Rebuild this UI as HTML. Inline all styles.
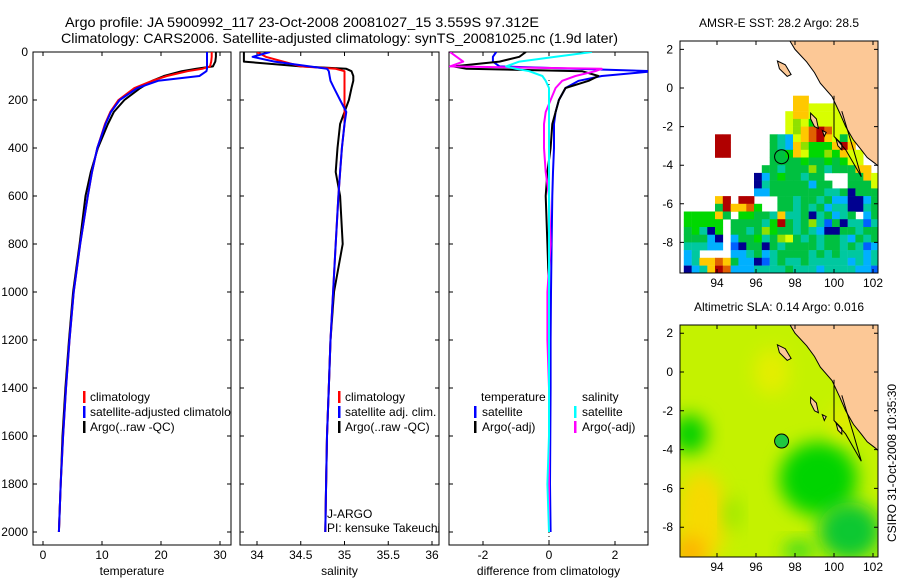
<!DOCTYPE html>
<html><head><meta charset="utf-8"><style>
html,body{margin:0;padding:0;background:#fff}
svg{display:block;font-family:"Liberation Sans",sans-serif}
</style></head><body>
<svg id="s" width="900" height="580" viewBox="0 0 900 580" xmlns="http://www.w3.org/2000/svg">
<defs>
<clipPath id="c1"><rect x="33" y="52" width="198" height="493"/></clipPath>
<clipPath id="c2"><rect x="240" y="52" width="199" height="493"/></clipPath>
<clipPath id="c3"><rect x="449" y="52" width="199" height="493"/></clipPath>
<clipPath id="m1"><rect x="680" y="41" width="198" height="232"/></clipPath>
<clipPath id="m2"><rect x="680" y="325" width="198" height="232"/></clipPath>
<filter id="bl" x="-50%" y="-50%" width="200%" height="200%"><feGaussianBlur stdDeviation="9"/></filter>
</defs>
<text x="65" y="27" font-size="14" textLength="474" lengthAdjust="spacingAndGlyphs">Argo profile: JA 5900992_117 23-Oct-2008 20081027_15 3.559S 97.312E</text>
<text x="61" y="43" font-size="14" textLength="557" lengthAdjust="spacingAndGlyphs">Climatology: CARS2006. Satellite-adjusted climatology: synTS_20081025.nc (1.9d later)</text>
<g id="g"></g>
</svg>
<script>
// ---- profile data ----
const depths=[0,20,40,60,70,80,100,120,150,200,250,300,400,500,600,800,1000,1200,1400,1600,1800,2000];
const tempClim=[28.6,28.6,28.5,28.3,27,24.5,21,18.5,15.5,12.8,11.4,10.5,9.2,8.3,7.6,6.3,5.2,4.5,3.9,3.4,3.0,2.7];
const tempSat=[27.8,27.8,27.8,27.8,27.8,27.7,26.5,19.5,16,13,11.5,10.6,9.2,8.3,7.6,6.3,5.2,4.5,3.9,3.4,3.0,2.7];
const tempArgo=[29.3,29.3,29.2,28.8,26,23.5,20.5,18.5,16.5,13.8,12,11,9.3,8.1,7.2,6.2,5.1,4.4,3.8,3.3,3.0,2.7];
const salClim=[34.0,34.1,34.3,34.5,34.9,35.0,35.0,35.0,35.0,35.0,35.0,35.0,34.97,34.95,34.93,34.9,34.87,34.84,34.82,34.8,34.79,34.78];
const salSat=[34.15,33.95,34.2,34.6,34.8,34.82,34.83,34.84,34.88,34.95,35.02,35.0,34.97,34.95,34.93,34.9,34.87,34.84,34.82,34.8,34.79,34.78];
const salArgo=[33.85,33.85,33.85,34.5,35.02,35.08,35.1,35.1,35.08,35.05,35.0,34.95,34.92,34.9,34.95,34.98,34.88,34.84,34.82,34.8,34.79,34.78];
const dTempSat=[-1.6,-1.7,-1.7,-1.5,0.8,3.2,1.6,0.9,0.5,0.3,0.2,0.15,0.15,0.12,0.1,0.08,0.06,0.05,0.05,0.04,0.03,0.05];
const dTempArgo=[-0.7,-0.9,-1.5,-2.9,-2.5,1.0,1.5,1.2,0.5,0.3,0.2,0.1,0.05,-0.05,-0.1,-0.05,0,0,0,0,0,0];
const dSalSat=[1.3,0.2,-0.9,-1.3,-1.0,-0.6,-0.2,-0.1,0,0,0,0,0,0,0,0,0,0,0,0,-0.05,0];
const dSalArgo=[-3,-2.8,-2.6,-3,1.6,1.4,0.8,0.4,0.2,0.05,-0.1,-0.15,-0.15,-0.1,0,0.05,-0.05,-0.05,0,0,0,0];
const depthTicks=[0,200,400,600,800,1000,1200,1400,1600,1800,2000];
const tempTicks=[0,10,20,30];
const salTicks=[34,34.5,35,35.5,36];
const diffTicks=[-2,0,2];
// ---- SST grid (rows from lat 2.4 down, 0.4 deg cells from lon 92.3) ----
const sstRows=[
".........................",".........................",".........................",
".........................",".........................",".........................",
"....................y....","..............YY....yy...","..............YYyyyyyy...",
".............yYYyyyyyy...",".............ylygyyyyy...",".............ylYoroyyy...",
"....rr.....GcbyYorYyGy...","....rr.....GcbYlgggYrY...","....rr.....GGgYygglgYyy..",
"...........GGGGgGGgGgyy..","..........GGcGGGlGcGGGYY.",".........NbGgGGcGG...GGYy",
".........NcGGGGGbGG..GGGy",".........bbGGGGGGGccGNGGG","....Yr.rr...GGcGGcGbbNNbG",
"....GrYYog..GGcGcGbccNNcG","ggggYG.ggGGcYccGNcGbcG.bG","ggggg.GGGGcgrGcGlcBGNccBc",
"GgcNg.GGcGlgGGcGcbNNGGcGG","GGGbN.bGGgcGlyGcGcGGcbGcG","cccbb.BNGGNGcGGGGcGGcGcBb",
"bc....bbcGbcGGGGcGcGcccbc","bcYYoYGbbNBcGccGcccccbcbc","NbcYrobbbccccGcccbccccbbB"];
const sstColors={G:"#00c040",g:"#00d800",c:"#00c8a0",b:"#00b0ff",B:"#0060ff",N:"#000090",y:"#d8ff00",l:"#90e000",Y:"#ffc800",o:"#e06000",r:"#b00000"};
const latTicks=[2,0,-2,-4,-6,-8];
const lonTicks=[94,96,98,100,102];
const argoLon=97.312, argoLat=-3.559;

const NS="http://www.w3.org/2000/svg";
const G=document.getElementById('g');
function mk(tag,at,par){const e=document.createElementNS(NS,tag);for(const k in at)e.setAttribute(k,at[k]);(par||G).appendChild(e);return e;}
const yD=d=>52+d*0.24;
const xT=t=>43+t*5.9;
const xS=s=>257+(s-34)*87.5;
const xDf=v=>549+v*33;

function panel(x0,w,clip,xf,ticks,labels,title,name){
  const f=mk('rect',{x:x0,y:52,width:w,height:493,fill:'none',stroke:'#000','stroke-width':1});
  
  
  depthTicks.forEach(d=>{const y=yD(d);
    const t=mk('path',{d:`M${x0} ${y}h4M${x0+w} ${y}h-4`,stroke:'#000'});
    
    
  });
  ticks.forEach((v,i)=>{const x=xf(v);
    const t=mk('path',{d:`M${x} 545v-4M${x} 52v4`,stroke:'#000'});
    
    
    const l=mk('text',{x:x,y:559,'font-size':12,'text-anchor':'middle'});l.textContent=labels[i];
    
    
  });
  const tt=mk('text',{x:x0+w/2,y:575,'font-size':12,'text-anchor':'middle'});tt.textContent=title;
  
  
}
function line(vals,xf,col,clip,name,w){
  const g=mk('g',{'clip-path':`url(#${clip})`});
  const p=mk('polyline',{points:vals.map((v,i)=>xf(v).toFixed(1)+','+yD(depths[i]).toFixed(1)).join(' '),fill:'none',stroke:col,'stroke-width':w||2,'stroke-linejoin':'round'},g);
  
  
}
function txt(x,y,s,name,anchor,par){const t=mk('text',{x:x,y:y,'font-size':12,'text-anchor':anchor||'start'},par);t.textContent=s;
  
  return t;}
function bar(x,y,col,name){const r=mk('rect',{x:x,y:y-10,width:2.5,height:12,fill:col});
  
  }

// depth labels
depthTicks.forEach(d=>{const l=txt(28,yD(d)+4,String(d),'depth-tick-label','end');});

// panel 1 temperature
panel(33,198,'c1',xT,tempTicks,tempTicks.map(String),'temperature','temperature-panel');
line(tempArgo,xT,'#000','c1','temp-argo-line');
line(tempClim,xT,'#f00','c1','temp-climatology-line');
line(tempSat,xT,'#00f','c1','temp-satellite-line');
const lg1=mk('g',{'clip-path':'url(#c1)'});
bar(83,401,'#f00','legend-swatch-climatology');txt(90,401,'climatology','legend-climatology','start',lg1);
bar(83,416,'#00f','legend-swatch-satellite');txt(90,416,'satellite-adjusted climatology','legend-satellite','start',lg1);
bar(83,431,'#000','legend-swatch-argo');txt(90,431,'Argo(..raw -QC)','legend-argo','start',lg1);

// panel 2 salinity
panel(240,199,'c2',xS,salTicks,['34','34.5','35','35.5','36'],'salinity','salinity-panel');
line(salArgo,xS,'#000','c2','sal-argo-line');
line(salClim,xS,'#f00','c2','sal-climatology-line');
line(salSat,xS,'#00f','c2','sal-satellite-line');
bar(338,401,'#f00','legend-swatch-climatology');txt(345,401,'climatology','legend-climatology');
bar(338,416,'#00f','legend-swatch-satellite');txt(345,416,'satellite adj. clim.','legend-satellite');
bar(338,431,'#000','legend-swatch-argo');txt(345,431,'Argo(..raw -QC)','legend-argo');
txt(327,518,'J-ARGO','float-program-label');
txt(327,532,'PI: kensuke Takeuchi','pi-label');

// panel 3 difference
panel(449,199,'c3',xDf,diffTicks,['-2','0','2'],'difference from climatology','difference-panel');
const z=mk('line',{x1:xDf(0),y1:80,x2:xDf(0),y2:545,stroke:'#000','stroke-dasharray':'1,3'});

line(dTempSat,xDf,'#00f','c3','diff-temp-satellite-line');
line(dTempArgo,xDf,'#000','c3','diff-temp-argo-line');
line(dSalArgo,xDf,'#f0f','c3','diff-sal-argo-line');
line(dSalSat,xDf,'#0ff','c3','diff-sal-satellite-line');
txt(481,401,'temperature','legend-temperature-header');
bar(474,416,'#00f','legend-swatch-temp-satellite');txt(482,416,'satellite','legend-temp-satellite');
bar(474,431,'#000','legend-swatch-temp-argo');txt(482,431,'Argo(-adj)','legend-temp-argo');
txt(582,401,'salinity','legend-salinity-header');
bar(574,416,'#0ff','legend-swatch-sal-satellite');txt(582,416,'satellite','legend-sal-satellite');
bar(574,431,'#f0f','legend-swatch-sal-argo');txt(582,431,'Argo(-adj)','legend-sal-argo');

// ---- maps ----
const xL=lon=>717+(lon-94)*19.5;
const land=[[97.7,2.5],[98.0,2.0],[98.6,1.35],[99.0,0.8],[99.3,0.25],[99.9,-0.45],[100.3,-1.3],[100.6,-2.0],[101.0,-2.7],[101.4,-3.2],[101.7,-3.6],[102.1,-3.9],[102.5,-4.25],[102.5,2.5]];
const islands=[[[97.1,1.4],[97.5,1.2],[97.8,0.7],[97.6,0.6],[97.2,1.0]],
 [[98.8,-1.3],[99.1,-1.6],[99.2,-2.1],[99.0,-2.0],[98.8,-1.6]],
 [[100.1,-2.6],[100.4,-2.9],[100.4,-3.2],[100.2,-3.0]],
 [[99.4,-2.2],[99.6,-2.3],[99.5,-2.5]]];
function map(yLat,top,clip,name,title){
  const g=mk('g',{'clip-path':`url(#${clip})`});
  
  
  if(name==='sst-map'){
    sstRows.forEach((row,i)=>{for(let j=0;j<row.length;j++){const c=row[j];if(c==='.')continue;
      const x0=xL(92.3+0.4*j),y0=yLat(2.4-0.4*i);
      const r=mk('rect',{x:x0.toFixed(1),y:y0.toFixed(1),width:(0.4*19.5+0.3).toFixed(1),height:(0.4*19.3+0.3).toFixed(1),fill:sstColors[c]},g);
      
      
    }});
  } else {
    mk('rect',{x:680,y:325,width:198,height:232,fill:'#c4f200'},g);
    const blobs=[[99.2,-5.5,2.0,1.9,'#00d400'],[100.8,-8.2,1.6,1.5,'#10c830'],[92.6,-3.2,0.9,1.0,'#00d000'],[93.2,-7.5,1.3,2.4,'#f6da00'],[92.6,-9.3,0.8,0.8,'#ffb000'],[96.8,0.0,0.9,1.2,'#e4ee00'],[98.2,-9.2,0.8,0.5,'#30d820'],[94.8,-7.3,0.4,0.9,'#90e800'],[100.5,-2.5,0.6,0.8,'#e8ea00']];
    blobs.forEach(b=>{const e=mk('ellipse',{cx:xL(b[0]),cy:yLat(b[1]),rx:b[2]*19.5,ry:b[3]*19.3,fill:b[4],filter:'url(#bl)'},g);
      });
  }
  const lp=mk('polygon',{points:land.map(p=>xL(p[0]).toFixed(1)+','+yLat(p[1]).toFixed(1)).join(' '),fill:'#fcc896',stroke:'#000','stroke-width':1},g);
  
  islands.forEach(is=>{const p=mk('polygon',{points:is.map(p=>xL(p[0]).toFixed(1)+','+yLat(p[1]).toFixed(1)).join(' '),fill:'#fcc896',stroke:'#000','stroke-width':1},g);
    });
  const cl=mk('polyline',{points:[[100,-0.4],[100,-2.5],[100.6,-3.2],[101.4,-4.6],[101.0,-3.2],[100.4,-1.2]].map(p=>xL(p[0]).toFixed(1)+','+yLat(p[1]).toFixed(1)).join(' '),fill:'none',stroke:'#000','stroke-width':1},g);
  
  const ac=mk('circle',{cx:xL(argoLon),cy:yLat(argoLat),r:7,fill:name==='sst-map'?'none':'#20c840',stroke:'#000','stroke-width':1},g);
  
  const fr=mk('rect',{x:680,y:top,width:198,height:232,fill:'none',stroke:'#000'});
  
  latTicks.forEach(l=>{const y=yLat(l);
    const t=mk('path',{d:`M680 ${y}h4M878 ${y}h-4`,stroke:'#000'});
    txt(673,y+4,String(l),'lat-tick-label','end');});
  lonTicks.forEach(l=>{const x=xL(l);
    const t=mk('path',{d:`M${x} ${top}v4M${x} ${top+232}v-4`,stroke:'#000'});
    txt(x,top+246,String(l),'lon-tick-label','middle');});
  txt(779,top-14,title,name+'-title','middle');
}
map(lat=>88-lat*19.3,41,'m1','sst-map','AMSR-E SST: 28.2 Argo: 28.5');
map(lat=>372-lat*19.4,325,'m2','sla-map','Altimetric SLA: 0.14 Argo: 0.016');
const cs=mk('text',{x:0,y:0,'font-size':12,'text-anchor':'middle',transform:'translate(896,463) rotate(-90)'});
cs.textContent='CSIRO 31-Oct-2008 10:35:30';


</script>
</body></html>
